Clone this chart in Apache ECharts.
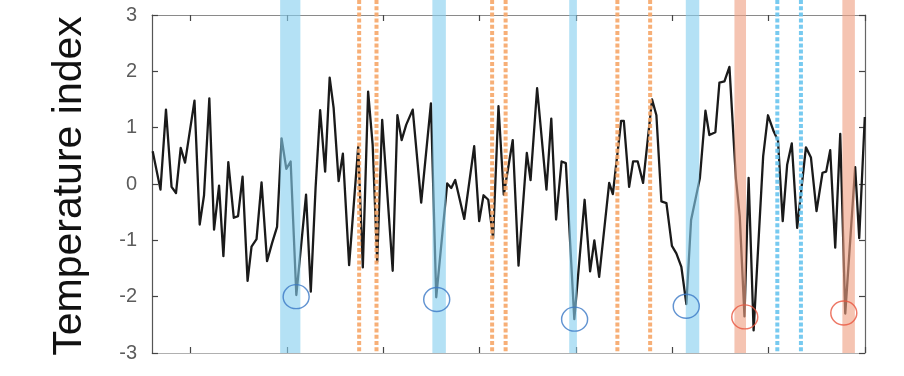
<!DOCTYPE html>
<html>
<head>
<meta charset="utf-8">
<script src="https://cdn.jsdelivr.net/npm/echarts@6/dist/echarts.min.js"></script>
<style>
  html, body { margin: 0; padding: 0; background: #fff; }
  #chart { width: 904px; height: 376px; }
</style>
</head>
<body>
<div id="chart"></div>
<script>
// Temperature index series (decimal year, index value)
const years = [
  1946.07,1946.88,1947.45,1948.03,1948.49,1948.98,1949.43,1950.41,1950.95,1951.40,
  1951.95,1952.44,1952.96,1953.41,1953.92,1954.49,1954.93,1955.40,1955.92,1956.33,
  1956.85,1957.37,1957.94,1958.46,1958.98,1959.45,1959.94,1960.39,1960.98,1961.99,
  1962.48,1962.98,1963.45,1963.97,1964.44,1964.85,1965.37,1965.81,1966.46,1967.40,
  1967.88,1968.43,1968.90,1969.37,1969.89,1970.98,1971.47,1971.91,1972.38,1973.06,
  1973.94,1974.95,1975.50,1976.64,1977.06,1977.47,1978.41,1979.44,1979.96,1980.41,
  1980.90,1981.40,1981.96,1982.51,1983.44,1984.04,1984.90,1985.29,1985.97,1986.94,
  1987.44,1987.94,1988.51,1988.95,1989.83,1990.90,1991.47,1991.91,1992.41,1993.45,
  1993.83,1994.69,1994.97,1995.52,1995.93,1996.41,1996.97,1997.90,1998.35,1998.87,
  1999.39,1999.96,2000.42,2000.94,2001.46,2001.95,2002.86,2003.44,2003.85,2004.47,
  2004.89,2005.41,2005.93,2006.60,2007.00,2007.49,2007.92,2008.44,2009.43,2009.93,
  2010.53,2010.97,2011.46,2011.92,2012.40,2012.96,2013.87,2014.39,2014.97,2015.59,
  2015.97,2016.39,2016.91,2017.43,2017.95,2018.98,2019.40,2019.98
];
const indexValues = [
  0.58,-0.1,1.32,-0.05,-0.16,0.64,0.38,1.48,-0.72,-0.2,
  1.52,-0.81,-0.03,-1.28,0.39,-0.6,-0.57,0.13,-1.72,-1.11,
  -0.98,0.03,-1.37,-1.05,-0.76,0.81,0.27,0.4,-1.97,-0.19,
  -1.91,-0.06,1.31,0.22,1.89,1.35,0.05,0.54,-1.44,0.66,
  -1.48,1.64,0.7,-1.38,1.14,-1.54,1.22,0.78,1.05,1.32,
  -0.33,1.43,-2.01,0.01,-0.07,0.07,-0.62,0.67,-0.66,-0.2,
  -0.28,-0.96,1.38,-0.19,0.78,-1.45,0.55,0.07,1.7,-0.1,
  1.16,-0.63,0.4,0.37,-2.4,-0.28,-1.55,-1.0,-1.65,0.02,
  -0.18,1.12,1.12,-0.05,0.4,0.4,0.02,1.5,1.22,-0.31,
  -0.34,-1.1,-1.23,-1.47,-2.13,-0.64,0.1,1.3,0.87,0.92,
  1.8,1.82,2.08,0.1,-0.57,-2.35,0.11,-2.6,0.49,1.22,
  0.93,0.77,-0.66,0.34,0.72,-0.78,0.65,0.47,-0.48,0.2,
  0.22,0.6,-1.13,0.89,-2.3,0.3,-0.96,1.19
];

// Axis extents and tick positions
const yearMin = 1946;
const yearMax = 2020;
const decadeTicks = [1950, 1960, 1970, 1980, 1990, 2000, 2010, 2020];
const yMin = -3;
const yMax = 3;

// Shaded periods [start, end]
const blueBands = [[1959.3, 1961.4], [1975.1, 1976.5], [1989.3, 1990.1], [2001.4, 2002.8]];
const redBands = [[2006.45, 2007.65], [2017.65, 2018.95]];

// Dotted markers
const orangeDotted = [1967.5, 1969.3, 1981.3, 1982.7, 1994.3, 1997.7];
const blueDotted = [2010.9, 2013.35];

// Circled minima
const blueCircleX = [1960.96, 1975.55, 1989.86, 2001.45];
const blueCircleY = [-2.0, -2.05, -2.4, -2.17];
const redCircleX = [2007.52, 2017.8];
const redCircleY = [-2.36, -2.29];

const chart = echarts.init(document.getElementById('chart'), null, { renderer: 'canvas' });

function bandSeries(bands, color) {
  return {
    type: 'custom',
    z: 3,
    silent: true,
    clip: false,
    data: bands,
    encode: { x: [0, 1] },
    renderItem: function (params, api) {
      const cs = params.coordSys;
      const x0 = api.coord([api.value(0), 0])[0];
      const x1 = api.coord([api.value(1), 0])[0];
      return {
        type: 'rect',
        shape: { x: x0, y: 0, width: x1 - x0, height: cs.y + cs.height },
        style: { fill: color }
      };
    }
  };
}

function dottedSeries(xs, color) {
  return {
    type: 'custom',
    z: 4,
    silent: true,
    clip: false,
    data: xs.map(function (v) { return [v]; }),
    encode: { x: 0 },
    renderItem: function (params, api) {
      const cs = params.coordSys;
      const x = api.coord([api.value(0), 0])[0];
      return {
        type: 'line',
        shape: { x1: x, y1: 0, x2: x, y2: cs.y + cs.height },
        style: { stroke: color, lineWidth: 4, lineDash: [4, 2.2] }
      };
    }
  };
}

function circleSeries(xs, ys, color) {
  return {
    type: 'scatter',
    z: 5,
    silent: true,
    symbol: 'circle',
    symbolSize: [26, 24],
    data: xs.map(function (x, i) { return [x, ys[i]]; }),
    itemStyle: { color: 'rgba(0,0,0,0)', borderColor: color, borderWidth: 1.4 }
  };
}

const xAxisBase = {
  type: 'value',
  min: yearMin,
  max: yearMax,
  axisLabel: { show: false },
  splitLine: { show: false },
  axisTick: {
    show: true, inside: true, length: 6,
    customValues: decadeTicks,
    lineStyle: { color: '#444', width: 1.2 }
  }
};

chart.setOption({
  animation: false,
  backgroundColor: '#fff',
  grid: { left: 152, right: 39, top: 15, bottom: 23, containLabel: false },
  xAxis: [
    Object.assign({}, xAxisBase, { position: 'bottom', axisLine: { show: true, onZero: false, lineStyle: { color: '#b0b0b0', width: 1.2 } } }),
    Object.assign({}, xAxisBase, { position: 'top', axisLine: { show: true, onZero: false, lineStyle: { color: '#8a8a8a', width: 1.2 } } })
  ],
  yAxis: [
    {
      type: 'value', min: yMin, max: yMax, interval: 1, position: 'left',
      axisLine: { show: true, lineStyle: { color: '#555', width: 1.2 } },
      axisTick: { show: true, inside: true, length: 6, lineStyle: { color: '#444', width: 1.2 } },
      axisLabel: { color: '#5c5c5c', fontSize: 20, fontFamily: 'Liberation Sans, Arial, sans-serif', margin: 15 },
      splitLine: { show: false }
    },
    {
      type: 'value', min: yMin, max: yMax, interval: 1, position: 'right',
      axisLine: { show: true, lineStyle: { color: '#666', width: 1.2 } },
      axisTick: { show: true, inside: true, length: 6, lineStyle: { color: '#444', width: 1.2 } },
      axisLabel: { show: false },
      splitLine: { show: false }
    }
  ],
  graphic: [{
    type: 'text',
    x: 70,
    y: 186,
    rotation: Math.PI / 2,
    style: {
      text: 'Temperature index',
      font: '41px "Liberation Sans", Arial, sans-serif',
      fill: '#111',
      textAlign: 'center',
      textVerticalAlign: 'middle'
    }
  }],
  series: [
    {
      type: 'line',
      z: 2,
      silent: true,
      symbol: 'none',
      data: years.map(function (y, i) { return [y, indexValues[i]]; }),
      lineStyle: { color: '#1a1a1a', width: 2.3, join: 'round' }
    },
    bandSeries(blueBands, 'rgba(134,206,239,0.62)'),
    bandSeries(redBands, 'rgba(239,160,131,0.62)'),
    dottedSeries(orangeDotted, 'rgba(246,166,104,0.9)'),
    dottedSeries(blueDotted, 'rgba(104,196,238,0.9)'),
    circleSeries(blueCircleX, blueCircleY, '#3a78c6'),
    circleSeries(redCircleX, redCircleY, '#e8553e')
  ]
});
</script>
</body>
</html>
